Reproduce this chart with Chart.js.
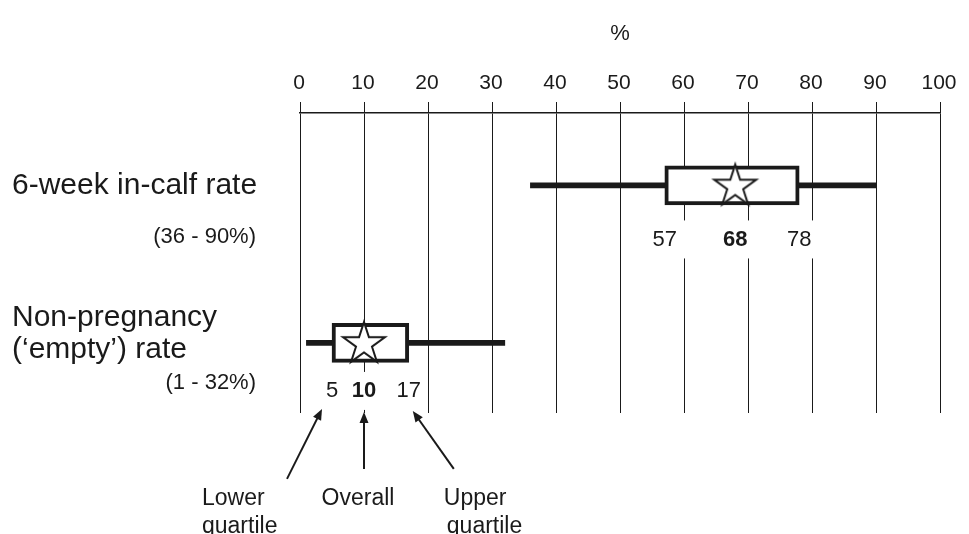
<!DOCTYPE html>
<html>
<head>
<meta charset="utf-8">
<script src="https://cdn.jsdelivr.net/npm/chart.js@4.4.1/dist/chart.umd.min.js"></script>
<style>
  html, body { margin: 0; padding: 0; background: #fff; }
  #wrap { width: 969px; height: 534px; position: relative; }
</style>
</head>
<body>
<div id="wrap"><canvas id="chart"></canvas></div>
<script>
// data
const rowLabels = [['6-week in-calf rate'], ['Non-pregnancy', '(\u2018empty\u2019) rate']];
const rangeLabels = ['(36 - 90%)', '(1 - 32%)'];
const minValues = [36, 1];
const lowerQuartile = [57, 5];
const overall = [68, 10];
const upperQuartile = [78, 17];
const maxValues = [90, 32];
const xTicks = [0, 10, 20, 30, 40, 50, 60, 70, 80, 90, 100];
const noteLabels = [['Lower', 'quartile'], ['Overall'], ['Upper', 'quartile']];

const FONT = "'Liberation Sans', Arial, sans-serif";
const INK = '#1a1a1a';

// y position of each row = its index
const rowPos = rowLabels.map((_, i) => i + 1);

// star marker (white fill, dark outline)
function makeStar(R) {
    const c = document.createElement('canvas');
    const s = Math.ceil(R * 2 + 6);
    c.width = s; c.height = s;
    const g = c.getContext('2d');
    const r = R * 0.382;
    g.beginPath();
    for (let k = 0; k < 10; k++) {
        const rad = k % 2 === 0 ? R : r;
        const a = -Math.PI / 2 + k * Math.PI / 5;
        const px = s / 2 + rad * Math.cos(a);
        const py = s / 2 + rad * Math.sin(a) + R * 0.05;
        k === 0 ? g.moveTo(px, py) : g.lineTo(px, py);
    }
    g.closePath();
    g.fillStyle = '#fff';
    g.fill();
    g.lineWidth = 2;
    g.strokeStyle = INK;
    g.stroke();
    return c;
}
const starImg = makeStar(22);

// text & annotation layer
const annotations = {
    id: 'annotations',
    afterDatasetsDraw(chart) {
        const ctx = chart.ctx;
        const xs = chart.scales.x;
        const ys = chart.scales.y;
        const qOffset = [54, 48];
        const qPad = [11, 4];
        const rangeOffset = [51, 40];
        ctx.save();

        // quartile / overall numbers under each box
        rowPos.forEach((r, i) => {
            const y = ys.getPixelForValue(r) + qOffset[i];
            [lowerQuartile[i], overall[i], upperQuartile[i]].forEach((v, j) => {
                const x = xs.getPixelForValue(v);
                ctx.font = (j === 1 ? 'bold ' : '') + '22px ' + FONT;
                const w = ctx.measureText(String(v)).width;
                ctx.fillStyle = '#fff';
                ctx.fillRect(x - w / 2 - qPad[i], y - 19, w + qPad[i] * 2, 38);
                ctx.fillStyle = INK;
                ctx.textAlign = 'center';
                ctx.textBaseline = 'middle';
                ctx.fillText(String(v), x, y);
            });
        });

        // row names on the left
        ctx.textAlign = 'left';
        ctx.textBaseline = 'middle';
        rowPos.forEach((r, i) => {
            const y0 = ys.getPixelForValue(r);
            const lines = rowLabels[i];
            ctx.font = '30px ' + FONT;
            ctx.fillStyle = INK;
            const top = lines.length === 1 ? y0 : y0 - 25;
            lines.forEach((t, k) => ctx.fillText(t, 12, top + k * 32));
            ctx.font = '22px ' + FONT;
            ctx.textAlign = 'right';
            ctx.fillText(rangeLabels[i], 256, y0 + rangeOffset[i]);
            ctx.textAlign = 'left';
        });

        // arrows pointing at the lower row's numbers
        const last = rowPos.length - 1;
        const ly = ys.getPixelForValue(rowPos[last]) + qOffset[last];
        const arrows = [
            { tip: [xs.getPixelForValue(lowerQuartile[last]) - 10, ly + 18], tail: [xs.getPixelForValue(lowerQuartile[last]) - 45, ly + 88] },
            { tip: [xs.getPixelForValue(overall[last]), ly + 21], tail: [xs.getPixelForValue(overall[last]), ly + 78] },
            { tip: [xs.getPixelForValue(upperQuartile[last]) + 4, ly + 20], tail: [xs.getPixelForValue(upperQuartile[last]) + 45, ly + 78] }
        ];
        ctx.strokeStyle = INK;
        ctx.fillStyle = INK;
        ctx.lineWidth = 2;
        arrows.forEach(a => {
            const [tx, ty] = a.tip;
            const [sx, sy] = a.tail;
            const ang = Math.atan2(ty - sy, tx - sx);
            ctx.beginPath();
            ctx.moveTo(sx, sy);
            ctx.lineTo(tx - 8 * Math.cos(ang), ty - 8 * Math.sin(ang));
            ctx.stroke();
            ctx.beginPath();
            ctx.moveTo(tx, ty);
            ctx.lineTo(tx - 11 * Math.cos(ang) + 4.5 * Math.sin(ang), ty - 11 * Math.sin(ang) - 4.5 * Math.cos(ang));
            ctx.lineTo(tx - 11 * Math.cos(ang) - 4.5 * Math.sin(ang), ty - 11 * Math.sin(ang) + 4.5 * Math.cos(ang));
            ctx.closePath();
            ctx.fill();
        });

        // captions under the arrows
        ctx.font = '23px ' + FONT;
        ctx.textBaseline = 'middle';
        const noteX = [arrows[0].tail[0] - 85, arrows[1].tail[0] - 6, arrows[2].tail[0] - 10];
        const noteAlign = ['left', 'center', 'left'];
        noteLabels.forEach((lines, i) => {
            ctx.textAlign = noteAlign[i];
            lines.forEach((t, k) => ctx.fillText(t, noteX[i] + (k ? (i === 2 ? 3 : 0) : 0), ly + 108 + k * 28));
        });

        ctx.restore();
    }
};

const chart = new Chart(document.getElementById('chart'), {
    type: 'bar',
    data: {
        datasets: [
            {
                label: 'range',
                data: rowPos.map((y, i) => ({ y, x: [minValues[i], maxValues[i]] })),
                backgroundColor: INK,
                borderWidth: 0,
                barThickness: 5,
                grouped: false,
                order: 3
            },
            {
                label: 'interquartile',
                data: rowPos.map((y, i) => ({ y, x: [lowerQuartile[i], upperQuartile[i]] })),
                backgroundColor: '#fff',
                borderColor: INK,
                borderWidth: 4,
                borderSkipped: false,
                barThickness: 39,
                grouped: false,
                order: 2
            },
            {
                type: 'scatter',
                label: 'overall',
                data: rowPos.map((y, i) => ({ y, x: overall[i] })),
                pointStyle: starImg,
                order: 1
            }
        ]
    },
    options: {
        indexAxis: 'y',
        responsive: true,
        maintainAspectRatio: false,
        animation: false,
        events: [],
        layout: { padding: { left: 300, right: 29, top: 0, bottom: 121 } },
        plugins: {
            legend: { display: false },
            tooltip: { enabled: false }
        },
        scales: {
            x: {
                type: 'linear',
                position: 'top',
                min: 0,
                max: 100,
                afterBuildTicks: s => { s.ticks = xTicks.map(v => ({ value: v })); },
                afterFit: s => { s.height = 113; },
                grid: { color: INK, lineWidth: 1, tickLength: 11, tickColor: INK },
                border: { display: true, color: INK, width: 1.5 },
                ticks: {
                    color: INK,
                    padding: 6,
                    labelOffset: -1,
                    font: { family: FONT, size: 21 }
                },
                title: {
                    display: true,
                    text: '%',
                    color: INK,
                    padding: { top: 21, bottom: 0 },
                    font: { family: FONT, size: 22 }
                }
            },
            y: {
                type: 'linear',
                display: false,
                offset: false,
                reverse: true,
                min: 0.54,
                max: 2.445
            }
        }
    },
    plugins: [annotations]
});
</script>
</body>
</html>
